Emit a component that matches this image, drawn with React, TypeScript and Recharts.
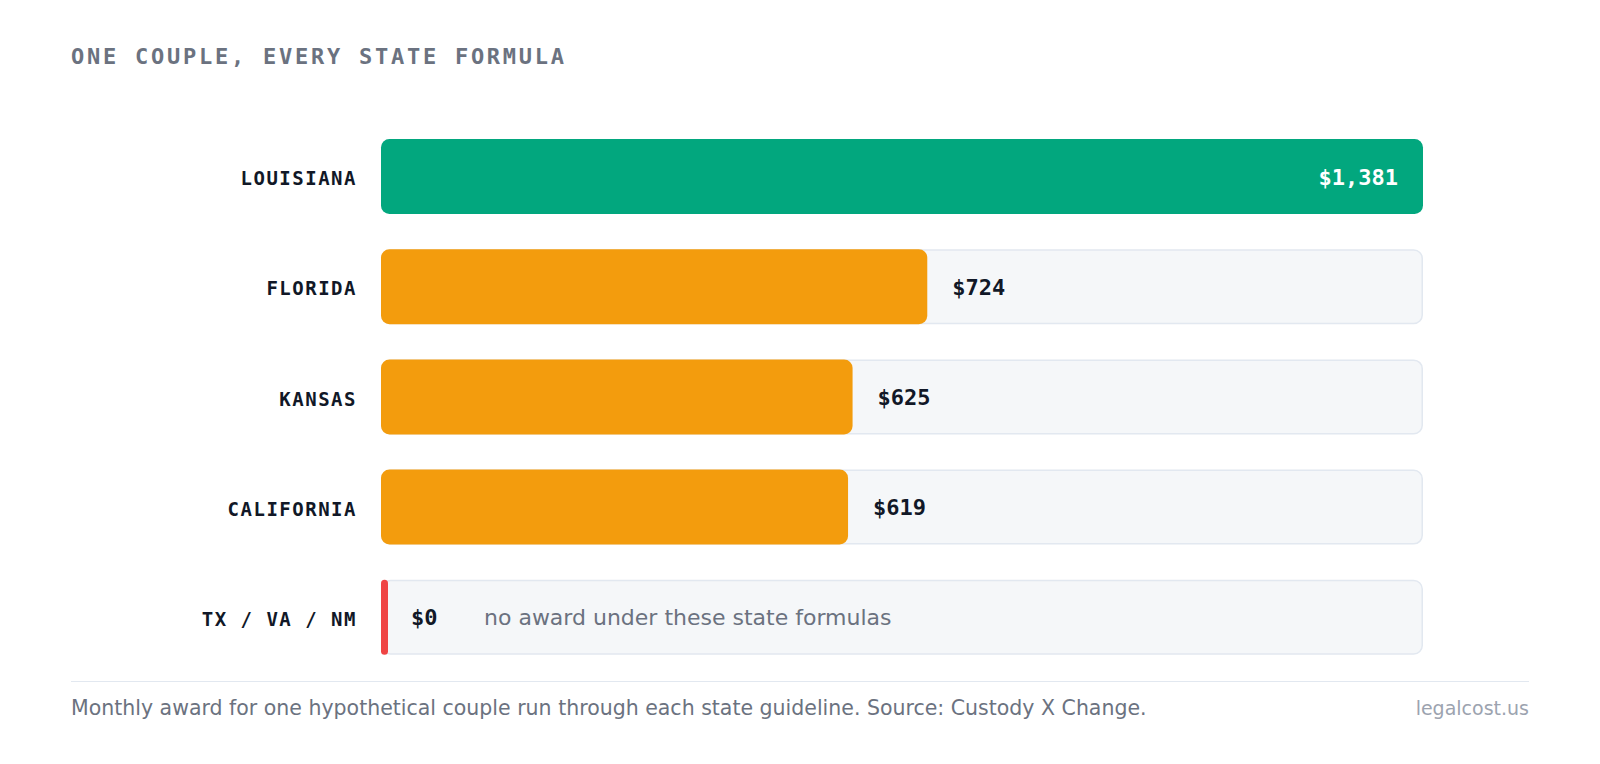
import React from "react";
import { Bar, BarChart, LabelList, XAxis, YAxis } from "recharts";

const states = ["LOUISIANA", "FLORIDA", "KANSAS", "CALIFORNIA", "TX / VA / NM"];
const awards = [1381, 724, 625, 619, 0];
const zeroNote = "no award under these state formulas";

const data = states.map((state, i) => ({ state, award: awards[i] }));
const maxAward = Math.max(...awards);

const MONO = "'DejaVu Sans Mono', monospace";
const SANS = "'DejaVu Sans', sans-serif";

const money = (v: number) => "$" + v.toLocaleString("en-US");

function barColor(v: number) {
  if (v === 0) return "#ef4444";
  if (v === maxAward) return "#02a77e";
  return "#f39c0d";
}

function BarShape(props: any) {
  const { x, y, width, height, payload } = props;
  const v = payload.award;
  const w = v === 0 ? 7 : width;
  const r = v === 0 ? 3.5 : 8.5;
  return <rect x={x} y={y} width={w} height={height} rx={r} ry={r} fill={barColor(v)} />;
}

function Track(props: any) {
  const { x, y, width, height } = props;
  return (
    <rect
      x={x + 0.75}
      y={y + 0.75}
      width={width - 1.5}
      height={height - 1.5}
      rx={8.5}
      ry={8.5}
      fill="#f5f7f9"
      stroke="#e2e8f0"
      strokeWidth={1.5}
    />
  );
}

function StateTick(props: any) {
  const { x, y, payload } = props;
  return (
    <text
      x={x - 16}
      y={y}
      dy={9}
      textAnchor="end"
      fontFamily={MONO}
      fontWeight="bold"
      fontSize={19}
      letterSpacing={1.5}
      fill="#111827"
    >
      {payload.value}
    </text>
  );
}

function ValueLabel(props: any) {
  const { x, y, width, height, value } = props;
  const cy = y + height / 2 + 8;
  if (value === maxAward) {
    return (
      <text x={x + width - 25} y={cy} textAnchor="end" fontFamily={MONO} fontWeight="bold" fontSize={22} fill="#ffffff">
        {money(value)}
      </text>
    );
  }
  if (value === 0) {
    return (
      <g>
        <text x={x + 30} y={cy} fontFamily={MONO} fontWeight="bold" fontSize={22} fill="#111827">
          {money(value)}
        </text>
        <text x={x + 103} y={cy} fontFamily={SANS} fontSize={22} fill="#6b7280">
          {zeroNote}
        </text>
      </g>
    );
  }
  return (
    <text x={x + width + 25} y={cy} fontFamily={MONO} fontWeight="bold" fontSize={22} fill="#111827">
      {money(value)}
    </text>
  );
}

export default function App() {
  return (
    <div style={{ position: "relative", margin: -8, width: 1600, height: 764, overflow: "hidden", background: "#ffffff" }}>
      <div
        style={{
          position: "absolute",
          left: 71,
          top: 44,
          fontFamily: MONO,
          fontWeight: "bold",
          fontSize: 22,
          letterSpacing: 2.75,
          color: "#6b7280",
          whiteSpace: "nowrap",
        }}
      >
        ONE COUPLE, EVERY STATE FORMULA
      </div>
      <div style={{ position: "absolute", left: 0, top: 0 }}>
        <BarChart
          width={1600}
          height={764}
          data={data}
          layout="vertical"
          margin={{ top: 121, right: 177, bottom: 92, left: 0 }}
        >
          <XAxis type="number" domain={[0, maxAward]} hide />
          <YAxis
            type="category"
            dataKey="state"
            width={381}
            axisLine={false}
            tickLine={false}
            tick={<StateTick />}
          />
          <Bar
            dataKey="award"
            barSize={75}
            background={<Track />}
            shape={<BarShape />}
            isAnimationActive={false}
          >
            <LabelList dataKey="award" content={<ValueLabel />} />
          </Bar>
        </BarChart>
      </div>
      <div style={{ position: "absolute", left: 71, top: 681, width: 1458, borderTop: "1.5px solid #e2e8f0" }} />
      <div
        style={{
          position: "absolute",
          left: 71,
          top: 696,
          fontFamily: SANS,
          fontSize: 20.5,
          color: "#6b7280",
          whiteSpace: "nowrap",
        }}
      >
        Monthly award for one hypothetical couple run through each state guideline. Source: Custody X Change.
      </div>
      <div
        style={{
          position: "absolute",
          right: 71,
          top: 697,
          fontFamily: SANS,
          fontSize: 19,
          color: "#9ca3af",
          whiteSpace: "nowrap",
        }}
      >
        legalcost.us
      </div>
    </div>
  );
}
